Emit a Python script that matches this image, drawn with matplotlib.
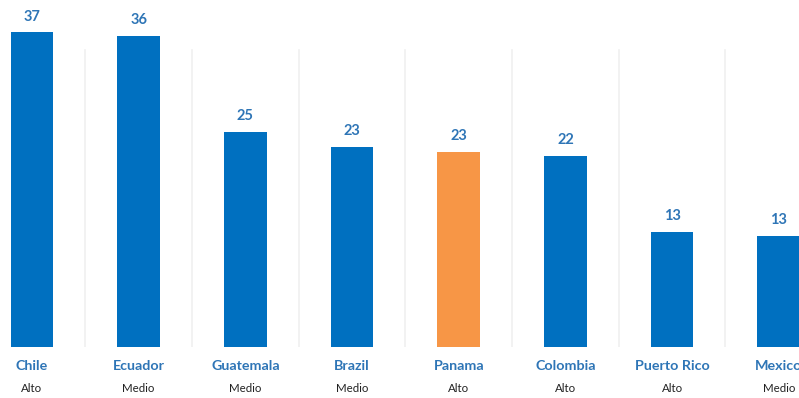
import matplotlib

matplotlib.use("Agg")

import matplotlib.pyplot as plt

countries = ["Chile", "Ecuador", "Guatemala", "Brazil", "Panama", "Colombia", "Puerto Rico", "Mexico"]
levels = ["Alto", "Medio", "Medio", "Medio", "Alto", "Alto", "Alto", "Medio"]
values = [36.6, 36.2, 25.0, 23.3, 22.7, 22.2, 13.4, 12.9]
highlight = "Panama"

BLUE = "#0070C0"
ORANGE = "#F79646"
LABEL_BLUE = "#2E75B6"

plt.rcParams["font.family"] = ["Lato", "DejaVu Sans"]

fig = plt.figure(figsize=(7.99, 3.98), dpi=100, facecolor="white")
ax = fig.add_axes([0, 1 - 347 / 398, 1, 347 / 398])

x = list(range(len(countries)))
colors = [ORANGE if c == highlight else BLUE for c in countries]

# faint separators between categories
for i in range(len(countries) - 1):
    ax.plot([i + 0.5, i + 0.5], [0, 34.5], color="#F0F0F0", lw=1.2, zorder=0)

ax.bar(x, values, width=0.40, color=colors, zorder=2)

for xi, v in zip(x, values):
    ax.text(xi, v + 1.0, f"{round(v)}", ha="center", va="bottom",
            fontsize=10.5, fontweight="bold", color=LABEL_BLUE)

for xi, c, lv in zip(x, countries, levels):
    ax.text(xi, -2.2, c, ha="center", va="center", fontsize=10.3,
            fontweight="bold", color=LABEL_BLUE, clip_on=False)
    ax.text(xi, -4.8, lv, ha="center", va="center", fontsize=8.3,
            color="#222222", clip_on=False)

ax.set_xlim(-0.30, 7.19)
ax.set_ylim(0, 40.35)
ax.set_axis_off()

fig.savefig("out.png", dpi=100, facecolor="white")
